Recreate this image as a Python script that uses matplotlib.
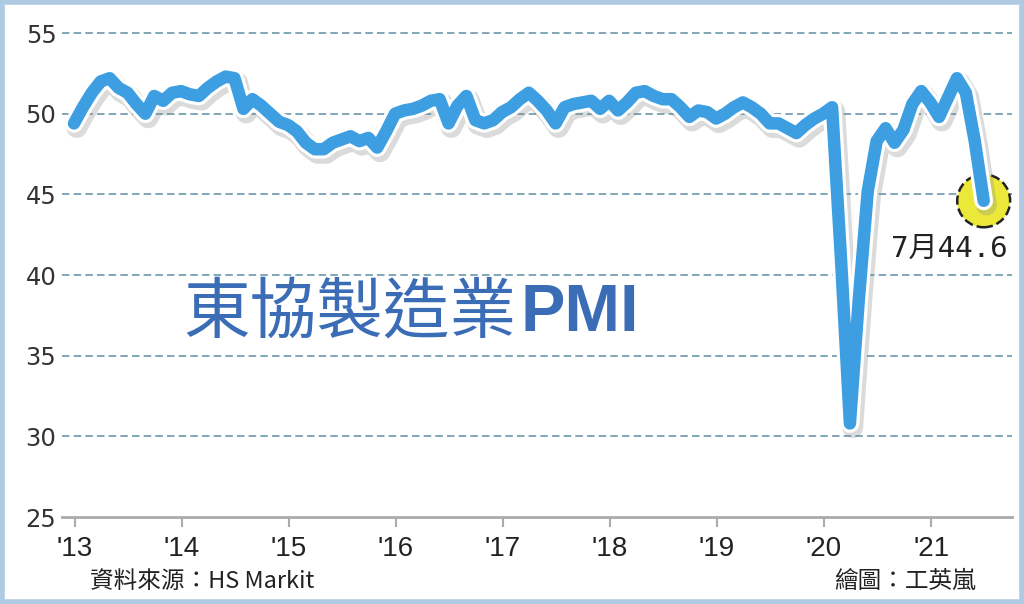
import numpy as np
import matplotlib
matplotlib.use('Agg')
import matplotlib.pyplot as plt
import matplotlib.patheffects as pe
from matplotlib.patches import Rectangle

# ASEAN manufacturing PMI, monthly Jan 2013 - Jul 2021
pmi_2013 = [49.4, 50.4, 51.3, 52.0, 52.2, 51.6, 51.3, 50.6, 50.0, 51.1, 50.8, 51.3]
pmi_2014 = [51.4, 51.2, 51.1, 51.6, 52.0, 52.3, 52.2, 50.3, 50.9, 50.5, 50.0, 49.5]
pmi_2015 = [49.3, 48.9, 48.2, 47.8, 47.8, 48.2, 48.4, 48.6, 48.3, 48.5, 47.9, 48.9]
pmi_2016 = [50.0, 50.2, 50.3, 50.5, 50.8, 50.9, 49.4, 50.5, 51.1, 49.6, 49.4, 49.6]
pmi_2017 = [50.1, 50.4, 50.9, 51.3, 50.8, 50.2, 49.4, 50.4, 50.6, 50.7, 50.8, 50.3]
pmi_2018 = [50.8, 50.2, 50.7, 51.3, 51.4, 51.1, 50.9, 50.9, 50.4, 49.8, 50.2, 50.1]
pmi_2019 = [49.7, 50.0, 50.4, 50.7, 50.4, 50.0, 49.4, 49.4, 49.1, 48.8, 49.3, 49.7]
pmi_2020 = [50.0, 50.4, 41.0, 30.8, 38.5, 45.2, 48.3, 49.1, 48.2, 49.0, 50.6, 51.4]
pmi_2021 = [50.7, 49.8, 51.0, 52.2, 51.3, 48.3, 44.6]

pmi = (pmi_2013 + pmi_2014 + pmi_2015 + pmi_2016 + pmi_2017 + pmi_2018
       + pmi_2019 + pmi_2020 + pmi_2021)
months = np.arange(len(pmi))

year_labels = ["'13", "'14", "'15", "'16", "'17", "'18", "'19", "'20", "'21"]
y_ticks = [25, 30, 35, 40, 45, 50, 55]

last_label = '7月44.6'
title = '東協製造業'
source = '資料來源：HS Markit'
credit = '繪圖：工英嵐'

cjk = ['Noto Sans CJK TC', 'DejaVu Sans']
narrow = ['Liberation Sans Narrow', 'Liberation Sans']

fig = plt.figure(figsize=(10.24, 6.04), dpi=100)
ax = fig.add_axes([0.0605, 0.144, 0.928, 0.828])

ax.set_xlim(-1.35, 105.2)
ax.set_ylim(25, 56)

# dashed grid lines
for v in y_ticks[1:]:
    ax.axhline(v, color='#6a97ad', lw=1.2, linestyle=(0, (4.5, 2.5)), zorder=1)

ax.plot(months, pmi, color='#3d9fe1', lw=9, solid_joinstyle='round',
        solid_capstyle='round', zorder=4,
        path_effects=[pe.SimpleLineShadow(offset=(2, -3), shadow_color='#888888',
                                          alpha=0.3, linewidth=15),
                      pe.Stroke(linewidth=13.5, foreground='white'),
                      pe.Normal()])

# highlight of last reading
ax.scatter([months[-1]], [pmi[-1]], s=1450, color='#ece83a', edgecolors='#222222',
           linewidths=1.8, linestyles='--', zorder=3)
ax.text(98.2, 41.6, last_label, fontsize=21, color='#222222', ha='center', va='center',
        family=['DejaVu Sans Mono', 'Noto Sans CJK TC'], zorder=5)

t = ax.text(12.2, 37.6, title, fontsize=48, color='#3b6db6', ha='left', va='center',
            family=cjk, fontweight='medium', zorder=5)
ax.annotate('PMI', xy=(1, 0.5), xycoords=t, xytext=(3, 0), textcoords='offset points',
            fontsize=48, color='#3b6db6', ha='left', va='center',
            family=narrow, fontweight='bold')

ax.set_yticks(y_ticks)
ax.set_yticklabels([str(v) for v in y_ticks], fontsize=17.5, color='#333333')
ax.set_xticks([12 * k + 0.1 for k in range(len(year_labels))])
ax.set_xticklabels(year_labels, fontsize=20, color='#222222', family=narrow)
ax.tick_params(axis='y', length=0, pad=4)
ax.tick_params(axis='x', length=7, width=1.5, color='#aaaaaa', pad=7)

for s in ['top', 'right', 'left']:
    ax.spines[s].set_visible(False)
ax.spines['bottom'].set_color('#aaaaaa')
ax.spines['bottom'].set_linewidth(2)

fig.text(0.088, 0.038, source, fontsize=17, color='#222222', ha='left', va='center',
         family=cjk)
fig.text(0.953, 0.038, credit, fontsize=17, color='#222222', ha='right', va='center',
         family=cjk)

# light blue frame
fig.patches.append(Rectangle((0.002, 0.003), 0.996, 0.994, transform=fig.transFigure,
                             fill=False, edgecolor='#aecbe3', lw=4))

fig.savefig('out.png', dpi=100)
